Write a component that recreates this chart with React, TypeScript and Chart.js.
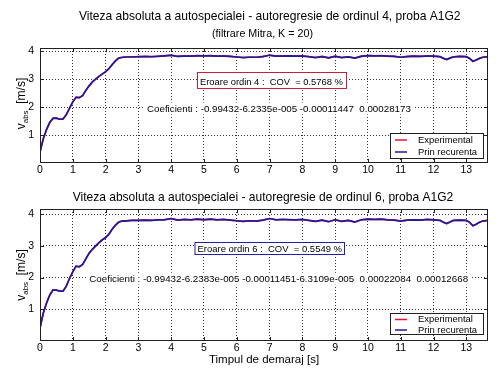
import React, { useEffect, useRef } from "react";
import { Chart, registerables } from "chart.js";

Chart.register(...registerables);

const FONT = '"Liberation Sans", Arial, Helvetica, sans-serif';

// ---------------- data ----------------
const TIME_S = [
  0, 0.1, 0.2, 0.3, 0.4, 0.5, 0.6, 0.7, 0.8, 0.9,
  1.0, 1.1, 1.2, 1.3, 1.4, 1.5, 1.6, 1.7, 1.8, 1.9,
  2.0, 2.1, 2.2, 2.3, 2.4, 2.5, 2.6, 2.8, 3.0, 3.2,
  3.4, 3.6, 3.8, 4.0, 4.2, 4.4, 4.6, 4.8, 5.0, 5.2,
  5.4, 5.6, 5.8, 6.0, 6.2, 6.4, 6.6, 6.8, 7.0, 7.2,
  7.4, 7.6, 7.8, 8.0, 8.2, 8.4, 8.6, 8.8, 9.0, 9.2,
  9.4, 9.6, 9.8, 10.0, 10.2, 10.4, 10.6, 10.8, 11.0, 11.2,
  11.4, 11.6, 11.8, 12.0, 12.2, 12.3, 12.4, 12.5, 12.6, 12.8,
  13.0, 13.1, 13.2, 13.3, 13.4, 13.5, 13.66,
];

const V_EXPERIMENTAL = [
  0.40, 0.88, 1.20, 1.46, 1.61, 1.61, 1.57, 1.57, 1.73, 1.97,
  2.19, 2.36, 2.34, 2.41, 2.60, 2.77, 2.90, 3.00, 3.10, 3.19,
  3.26, 3.37, 3.52, 3.65, 3.75, 3.78, 3.79, 3.80, 3.80, 3.81,
  3.80, 3.82, 3.83, 3.86, 3.81, 3.83, 3.82, 3.84, 3.83, 3.84,
  3.82, 3.83, 3.81, 3.79, 3.77, 3.79, 3.78, 3.81, 3.86, 3.82,
  3.83, 3.83, 3.82, 3.83, 3.80, 3.77, 3.81, 3.76, 3.82, 3.77,
  3.80, 3.75, 3.82, 3.84, 3.83, 3.84, 3.82, 3.81, 3.78, 3.81,
  3.82, 3.81, 3.83, 3.82, 3.80, 3.74, 3.70, 3.75, 3.80, 3.81,
  3.80, 3.74, 3.63, 3.68, 3.74, 3.78, 3.80,
];

const V_RECURENTA_4 = [
  0.40, 0.87, 1.21, 1.46, 1.60, 1.61, 1.57, 1.58, 1.73, 1.96,
  2.19, 2.35, 2.34, 2.42, 2.60, 2.76, 2.90, 3.01, 3.10, 3.18,
  3.27, 3.37, 3.51, 3.65, 3.75, 3.77, 3.79, 3.79, 3.80, 3.80,
  3.80, 3.81, 3.83, 3.85, 3.81, 3.82, 3.82, 3.83, 3.83, 3.83,
  3.82, 3.82, 3.81, 3.79, 3.77, 3.78, 3.78, 3.80, 3.85, 3.82,
  3.82, 3.83, 3.82, 3.82, 3.80, 3.77, 3.80, 3.76, 3.81, 3.77,
  3.79, 3.75, 3.81, 3.84, 3.83, 3.83, 3.82, 3.81, 3.78, 3.80,
  3.82, 3.81, 3.82, 3.82, 3.80, 3.74, 3.70, 3.75, 3.79, 3.81,
  3.80, 3.74, 3.64, 3.68, 3.74, 3.78, 3.80,
];

const V_RECURENTA_6 = [
  0.41, 0.88, 1.20, 1.45, 1.61, 1.60, 1.57, 1.57, 1.72, 1.97,
  2.18, 2.36, 2.34, 2.41, 2.59, 2.77, 2.89, 3.00, 3.10, 3.19,
  3.26, 3.36, 3.52, 3.65, 3.74, 3.78, 3.78, 3.80, 3.80, 3.81,
  3.80, 3.82, 3.82, 3.86, 3.81, 3.83, 3.82, 3.84, 3.82, 3.84,
  3.82, 3.83, 3.81, 3.79, 3.77, 3.79, 3.78, 3.81, 3.86, 3.82,
  3.83, 3.82, 3.82, 3.83, 3.80, 3.77, 3.81, 3.76, 3.82, 3.77,
  3.80, 3.75, 3.82, 3.84, 3.83, 3.84, 3.82, 3.81, 3.78, 3.81,
  3.82, 3.81, 3.83, 3.82, 3.80, 3.74, 3.70, 3.75, 3.80, 3.81,
  3.80, 3.74, 3.63, 3.68, 3.74, 3.78, 3.80,
];

const X_TICKS = [0, 1, 2, 3, 4, 5, 6, 7, 8, 9, 10, 11, 12, 13];
const Y_TICKS = [1, 2, 3, 4];
const X_MAX = 13.66;
const SERIES_LABELS = ["Experimental", "Prin recurenta"];
const X_TITLE = "Timpul de demaraj [s]";
const Y_TITLE_MAIN = "v";
const Y_TITLE_SUB = "abs";
const Y_TITLE_UNIT = "  [m/s]";

const TITLE_4 = "Viteza absoluta a autospecialei - autoregresie de ordinul 4, proba A1G2";
const SUBTITLE_4 = "(filtrare Mitra, K = 20)";
const ERR_4 = "Eroare ordin 4 :  COV  = 0.5768 %";
const COEF_4 = "Coeficienti : -0.99432-6.2335e-005 -0.00011447  0.00028173";

const TITLE_6 = "Viteza absoluta a autospecialei - autoregresie de ordinul 6, proba A1G2";
const ERR_6 = "Eroare ordin 6 :  COV  = 0.5549 %";
const COEF_6 = "Coeficienti : -0.99432-6.2383e-005 -0.00011451-6.3109e-005  0.00022084  0.00012668";

// ---------------- styles ----------------
const RED = "#e4142e";
const BLUE = "#22189a";
const FRAME = "#202020";

type Txt = { text: string; left: number; width: number; base: number };
type PanelCfg = {
  canvasTop: number;
  padTop: number;
  xAxisHeight: number;
  yMin: number;
  yMax: number;
  recurenta: number[];
  showXTitle: boolean;
  title: Txt;
  subtitle?: Txt;
  err: Txt & { color: string; box: [number, number, number, number] };
  coef: Txt;
  legend: { box: [number, number, number, number]; rows: [number, number] };
  yTitleShift: number;
};

const PANELS: PanelCfg[] = [
  {
    canvasTop: 0,
    padTop: 48,
    xAxisHeight: 23,
    yMin: 0.01,
    yMax: 4.11,
    recurenta: V_RECURENTA_4,
    showXTitle: false,
    title: { text: TITLE_4, left: 79, width: 382, base: 20 },
    subtitle: { text: SUBTITLE_4, left: 212, width: 101, base: 36.5 },
    err: { text: ERR_4, left: 200, width: 143, base: 84.5, color: "#c81e3c", box: [197, 72, 347, 89] },
    coef: { text: COEF_4, left: 147, width: 264, base: 111.5 },
    legend: { box: [390, 133, 484, 159], rows: [140, 152] },
    yTitleShift: -2,
  },
  {
    canvasTop: 186,
    padTop: 23,
    xAxisHeight: 31,
    yMin: 0.0,
    yMax: 4.16,
    recurenta: V_RECURENTA_6,
    showXTitle: true,
    title: { text: TITLE_6, left: 72.7, width: 381, base: 14.7 },
    err: { text: ERR_6, left: 197.5, width: 144.5, base: 65.7, color: "#2020a0", box: [194.5, 56, 345, 69] },
    coef: { text: COEF_6, left: 89.3, width: 379, base: 95.7 },
    legend: { box: [390, 127, 484, 149], rows: [133.5, 144] },
    yTitleShift: 0,
  },
];

function fitFont(ctx: CanvasRenderingContext2D, text: string, width: number) {
  ctx.font = `100px ${FONT}`;
  const w = ctx.measureText(text).width;
  const size = (100 * width) / w;
  ctx.font = `${size}px ${FONT}`;
  return size;
}

function drawTxt(ctx: CanvasRenderingContext2D, t: Txt) {
  fitFont(ctx, t.text, t.width);
  ctx.textAlign = "left";
  ctx.textBaseline = "alphabetic";
  ctx.fillStyle = "#000";
  ctx.fillText(t.text, t.left, t.base);
}

function makeDecor(cfg: PanelCfg) {
  return {
    id: "panelDecor",
    beforeDatasetsDraw(chart: any) {
      const ctx: CanvasRenderingContext2D = chart.ctx;
      ctx.save();
      // coefficient text with white background
      const c = cfg.coef;
      ctx.fillStyle = "#fff";
      ctx.fillRect(c.left - 2, c.base - 9, c.width + 4, 12);
      drawTxt(ctx, c);
      // error box
      const [x0, y0, x1, y1] = cfg.err.box;
      ctx.fillStyle = "#fff";
      ctx.fillRect(x0, y0, x1 - x0, y1 - y0);
      ctx.strokeStyle = cfg.err.color;
      ctx.lineWidth = 1;
      ctx.strokeRect(x0 + 0.5, y0 + 0.5, x1 - x0 - 1, y1 - y0 - 1);
      drawTxt(ctx, cfg.err);
      ctx.restore();
    },
    afterDraw(chart: any) {
      const ctx: CanvasRenderingContext2D = chart.ctx;
      const a = chart.chartArea;
      const xs = chart.scales.x;
      const ys = chart.scales.y;
      ctx.save();
      // frame
      ctx.strokeStyle = FRAME;
      ctx.lineWidth = 1;
      ctx.strokeRect(a.left + 0.5, a.top + 0.5, a.right - a.left - 1, a.bottom - a.top - 1);
      // inward tick marks
      ctx.beginPath();
      const tl = 4;
      for (const v of X_TICKS) {
        const px = Math.round(xs.getPixelForValue(v)) + 0.5;
        ctx.moveTo(px, a.bottom);
        ctx.lineTo(px, a.bottom - tl);
        ctx.moveTo(px, a.top);
        ctx.lineTo(px, a.top + tl);
      }
      for (const v of Y_TICKS) {
        const py = Math.round(ys.getPixelForValue(v)) + 0.5;
        ctx.moveTo(a.left, py);
        ctx.lineTo(a.left + tl, py);
        ctx.moveTo(a.right, py);
        ctx.lineTo(a.right - tl, py);
      }
      ctx.stroke();

      // legend
      const [lx0, ly0, lx1, ly1] = cfg.legend.box;
      ctx.fillStyle = "#fff";
      ctx.fillRect(lx0, ly0, lx1 - lx0, ly1 - ly0);
      ctx.strokeStyle = FRAME;
      ctx.strokeRect(lx0 + 0.5, ly0 + 0.5, lx1 - lx0 - 1, ly1 - ly0 - 1);
      const size = fitFont(ctx, chart.data.datasets[0].label, 55);
      ctx.font = `${size}px ${FONT}`;
      chart.data.datasets.forEach((ds: any, i: number) => {
        const ry = cfg.legend.rows[i];
        ctx.strokeStyle = ds.borderColor;
        ctx.lineWidth = 1.5;
        ctx.beginPath();
        ctx.moveTo(lx0 + 5, ry);
        ctx.lineTo(lx0 + 17, ry);
        ctx.stroke();
        ctx.fillStyle = "#000";
        ctx.textAlign = "left";
        ctx.textBaseline = "middle";
        ctx.fillText(ds.label, lx0 + 28, ry);
      });

      // titles
      drawTxt(ctx, cfg.title);
      if (cfg.subtitle) drawTxt(ctx, cfg.subtitle);

      // y-axis title with subscript
      const cy = (a.top + a.bottom) / 2 + cfg.yTitleShift;
      ctx.translate(25, cy);
      ctx.rotate(-Math.PI / 2);
      ctx.textBaseline = "alphabetic";
      ctx.textAlign = "left";
      ctx.fillStyle = "#000";
      const big = `12px ${FONT}`;
      const small = `8px ${FONT}`;
      ctx.font = big;
      const w1 = ctx.measureText(Y_TITLE_MAIN).width;
      const w3 = ctx.measureText(Y_TITLE_UNIT).width;
      ctx.font = small;
      const w2 = ctx.measureText(Y_TITLE_SUB).width;
      let x = -(w1 + w2 + w3) / 2;
      ctx.font = big;
      ctx.fillText(Y_TITLE_MAIN, x, 0);
      x += w1;
      ctx.font = small;
      ctx.fillText(Y_TITLE_SUB, x, 3);
      x += w2;
      ctx.font = big;
      ctx.fillText(Y_TITLE_UNIT, x, 0);
      ctx.restore();
    },
  };
}

function toPoints(values: number[]) {
  return TIME_S.map((t, i) => ({ x: t, y: values[i] }));
}

function Panel({ cfg }: { cfg: PanelCfg }) {
  const ref = useRef<HTMLCanvasElement>(null);
  useEffect(() => {
    const tickFont = { size: 10.5, family: FONT };
    const chart = new Chart(ref.current as HTMLCanvasElement, {
      type: "line",
      data: {
        datasets: [
          {
            label: SERIES_LABELS[0],
            data: toPoints(V_EXPERIMENTAL),
            borderColor: RED,
            backgroundColor: RED,
            borderWidth: 1.6,
            pointRadius: 0,
            tension: 0,
            order: 2,
          },
          {
            label: SERIES_LABELS[1],
            data: toPoints(cfg.recurenta),
            borderColor: BLUE,
            backgroundColor: BLUE,
            borderWidth: 1.7,
            pointRadius: 0,
            tension: 0,
            order: 1,
          },
        ],
      },
      options: {
        animation: false,
        responsive: false,
        devicePixelRatio: 1,
        layout: { padding: { top: cfg.padTop, right: 11, left: 0, bottom: 0 } },
        plugins: {
          legend: { display: false },
          tooltip: { enabled: false },
          title: { display: false },
        },
        scales: {
          x: {
            type: "linear",
            min: 0,
            max: X_MAX,
            afterBuildTicks: (s: any) => {
              s.ticks = X_TICKS.map((v) => ({ value: v }));
            },
            afterFit: (s: any) => {
              s.height = cfg.xAxisHeight;
            },
            ticks: {
              color: "#000",
              font: tickFont,
              padding: 1,
              maxRotation: 0,
              autoSkip: false,
              callback: (v: any) => String(v),
            },
            grid: { color: "#333", lineWidth: 1, drawTicks: false },
            border: { display: false, dash: [1, 2] },
            title: cfg.showXTitle
              ? {
                  display: true,
                  text: X_TITLE,
                  color: "#000",
                  font: { size: 11.5, family: FONT },
                  padding: { top: 0, bottom: 5 },
                }
              : { display: false },
          },
          y: {
            type: "linear",
            min: cfg.yMin,
            max: cfg.yMax,
            afterBuildTicks: (s: any) => {
              s.ticks = Y_TICKS.map((v) => ({ value: v }));
            },
            afterFit: (s: any) => {
              s.width = 40;
            },
            ticks: {
              color: "#000",
              font: tickFont,
              padding: 6,
              callback: (v: any) => String(v),
            },
            grid: { color: "#333", lineWidth: 1, drawTicks: false },
            border: { display: false, dash: [1, 2] },
          },
        },
      },
      plugins: [makeDecor(cfg)],
    } as any);
    return () => chart.destroy();
  }, [cfg]);
  return (
    <canvas
      ref={ref}
      width={499}
      height={186}
      style={{ position: "absolute", left: 0, top: cfg.canvasTop, width: 499, height: 186 }}
    />
  );
}

export default function App() {
  return (
    <div
      style={{
        position: "fixed",
        left: 0,
        top: 0,
        width: 499,
        height: 372,
        background: "#fff",
        overflow: "hidden",
      }}
    >
      {PANELS.map((p, i) => (
        <Panel key={i} cfg={p} />
      ))}
    </div>
  );
}
